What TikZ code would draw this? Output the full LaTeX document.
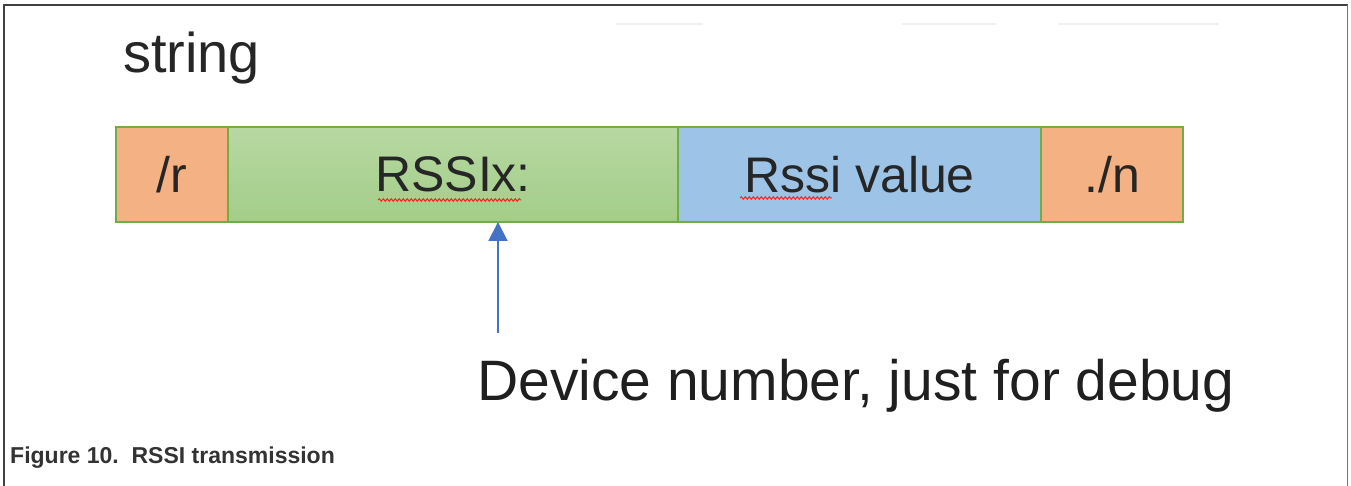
\documentclass[tikz,border=0pt]{standalone}
\usepackage{fontspec}
\setmainfont{Liberation Sans}
\usetikzlibrary{arrows.meta,decorations.pathmorphing}
\definecolor{cellorange}{HTML}{F4B183}
\definecolor{cellblue}{HTML}{9DC3E6}
\definecolor{cellgreen}{HTML}{70AD47}
\definecolor{greentop}{HTML}{B7D8A2}
\definecolor{greenbottom}{HTML}{A3CD88}
\definecolor{arrowblue}{HTML}{4472C4}
\begin{document}
\begin{tikzpicture}[x=1pt,y=-1pt,
    cell/.style={draw=cellgreen,line width=1.5pt,anchor=north west,minimum height=95pt,inner sep=0pt,outer sep=0pt,
      font=\fontsize{50}{56}\selectfont,text=black!85},
    squiggle/.style={red!85!white,line width=1pt,decorate,decoration={snake,segment length=4pt,amplitude=1.3pt}}]
	\useasboundingbox (0,0) rectangle (1351,486);
	\fill[white] (0,0) rectangle (1351,486);
	\draw[line width=2pt,black!75] (3.5,486) -- (3.5,5) -- (1347.5,5);
	\draw[line width=1.2pt,black!55] (1347.5,5) -- (1347.5,486);
	\draw[line width=2pt,black!6] (616,24) -- (703,24) (902,24) -- (996,24) (1058,24) -- (1219,24);
	\node[anchor=base west,inner sep=0pt,font=\fontsize{56}{62}\selectfont,text=black!85] (title) at (123,73) {string};
	\node[cell,fill=cellorange,minimum width=112pt] (cr) at (116,127) {/r};
	\node[cell,top color=greentop,bottom color=greenbottom,minimum width=450pt] (rssix) at (cr.north east) {RSSIx:};
	\node[cell,fill=cellblue,minimum width=363pt] (value) at (rssix.north east) {Rssi value};
	\node[cell,fill=cellorange,minimum width=142pt] (cn) at (value.north east) {./n};
	\draw[squiggle] (378,200) -- (521,200);
	\draw[squiggle] (740,198) -- (832,198);
	\coordinate (tail) at (498,333);
	\draw[line width=2pt,arrowblue,-{Triangle[width=19pt,length=19pt]}] (tail) -- (tail |- rssix.south);
	\node[anchor=base west,inner sep=0pt,font=\fontsize{57}{64}\selectfont,text=black!88] (debug) at (477,400) {Device number, just for debug};
	\node[anchor=base west,inner sep=0pt,font=\bfseries\fontsize{23}{27}\selectfont,text=black!80] (caption) at (10,463) {Figure 10.\ \ RSSI transmission};
\end{tikzpicture}
\end{document}
